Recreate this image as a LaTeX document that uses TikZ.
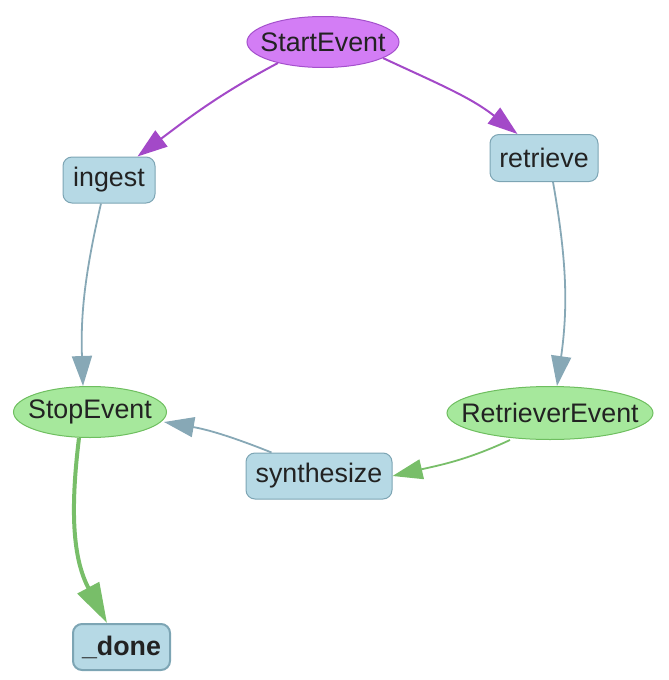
\documentclass[tikz,border=0pt]{standalone}
\usepackage{fontspec}
\setmainfont{Liberation Sans}
\usetikzlibrary{shapes.geometric,arrows.meta,calc}
\definecolor{pfill}{HTML}{D37DF5}
\definecolor{pdraw}{HTML}{A450CC}
\definecolor{pedge}{HTML}{A349C8}
\definecolor{bfill}{HTML}{B6D9E5}
\definecolor{bdraw}{HTML}{7DA5B4}
\definecolor{gfill}{HTML}{A6E89C}
\definecolor{gdraw}{HTML}{6EBE5F}
\definecolor{gedge}{HTML}{78BE69}
\definecolor{bedge}{HTML}{87A8B6}
\definecolor{txt}{HTML}{222222}
\begin{document}
\begin{tikzpicture}[x=1pt,y=1pt,
  every node/.style={font=\fontsize{26.8}{30}\selectfont, text=txt, inner sep=0pt},
  evt/.style={ellipse, draw=gdraw, fill=gfill, line width=1pt, inner xsep=-30pt, inner ysep=-10pt},
  sevt/.style={ellipse, draw=pdraw, fill=pfill, line width=1pt, inner xsep=-30pt, inner ysep=-10pt},
  stepbox/.style={rectangle, rounded corners=9pt, draw=bdraw, fill=bfill, line width=1pt},
  tipA/.style={-{Triangle[length=30pt,width=20pt]}},
  pe/.style={tipA, draw=pedge, line width=2pt},
  be/.style={tipA, draw=bedge, line width=1.8pt},
  ge/.style={tipA, draw=gedge, line width=1.8pt},
  gthick/.style={-{Triangle[length=40pt,width=24pt]}, draw=gedge, line width=4pt}
]
\useasboundingbox (0,0) rectangle (669,-680);
\node[sevt, minimum width=152pt, minimum height=51pt] (start) at (323,-42) {StartEvent};
\node[stepbox, minimum width=92pt, minimum height=46pt] (ingest) at (109,-180) {ingest};
\node[stepbox, minimum width=108pt, minimum height=47pt] (retrieve) at (544,-158) {retrieve};
\node[evt, minimum width=153pt, minimum height=51pt] (stop) at (90,-412) {StopEvent};
\node[evt, minimum width=206pt, minimum height=53pt] (retr) at (550,-413) {RetrieverEvent};
\node[stepbox, minimum width=146pt, minimum height=46pt] (synth) at (319,-476) {synthesize};
\node[stepbox, minimum width=97pt, minimum height=46pt, line width=2pt, font=\fontsize{26.8}{30}\selectfont\bfseries] (done) at (121.5,-647) {\_done};

\draw[pe] (start.205) to[out=208,in=37] ([xshift=-18pt]ingest.north east);
\draw[pe] (start.345) to[out=-25,in=142] ([xshift=28pt]retrieve.north west);
\draw[be] ([xshift=-8pt]ingest.south) to[out=257,in=92] ([xshift=-7pt]stop.north);
\draw[be] ([xshift=9pt]retrieve.south) to[out=-80,in=82] ([xshift=7pt]retr.north);
\draw[ge] ([xshift=-40pt]retr.south) to[out=205,in=13] (synth.east);
\draw[be] ([xshift=26pt]synth.north west) to[bend right=6] ([xshift=-3pt,yshift=-10pt]stop.east);
\draw[gthick] ([xshift=-11pt]stop.south) to[out=263,in=118] ([xshift=-14.5pt]done.north);
\end{tikzpicture}
\end{document}
